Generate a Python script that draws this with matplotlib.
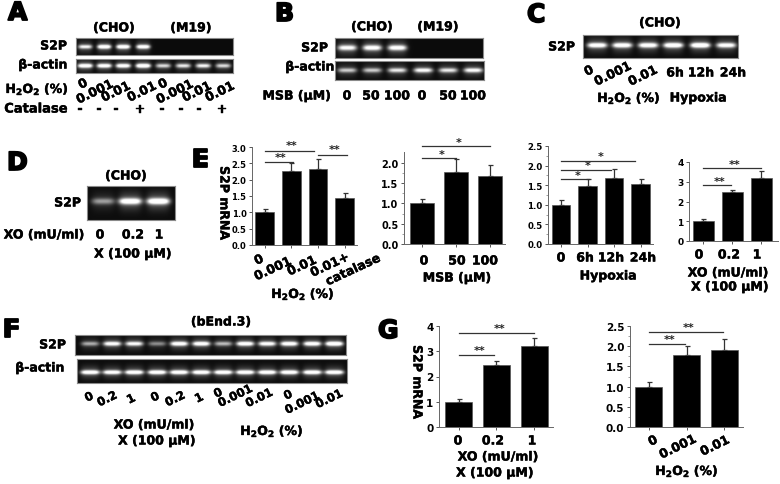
import matplotlib
matplotlib.use("Agg")
import matplotlib.pyplot as plt
import matplotlib.patheffects as pe
import numpy as np

W, H = 780, 485
plt.rcParams['font.family'] = ['DejaVu Sans']
plt.rcParams['font.weight'] = 'bold'
plt.rcParams['mathtext.fontset'] = 'dejavusans'

H2O2 = r'$\mathbf{H_2O_2}$ (%)'
XO = 'XO (mU/ml)'
X100 = 'X (100 µM)'
LAB = 9

# gel band brightness, one value per lane
a_s2p = [.75, .95, .95, .9, 0, 0, 0, 0]
a_actin = [.95, .9, .9, 1, .65, .7, .75, .65]
b_s2p = [.8, .85, .85, 0, 0, 0]
b_actin = [.6, .6, .7, .8, .7, .8]
c_s2p = [.9, .9, .9, .95, 1, .85]
d_s2p = [.45, .95, 1]
f_s2p = [.5, .85, .8, .4, .9, .9, .55, .9, .85, .9, .9, 1]
f_actin = [.95, .9, .95, .95, .95, .95, .95, .95, .95, .95, .95, .95]

# bar data: mean, top of error bar, brackets as (from bar, to bar, height)
e1_vals = [1.0, 2.27, 2.33, 1.43]
e1_err = [1.1, 2.5, 2.63, 1.6]
e1_brackets = [(0, 1.07, 2.53, '**'), (0, 1.85, 2.89, '**'), (2.0, 3.09, 2.76, '**')]
e2_vals = [1.0, 1.77, 1.68]
e2_err = [1.11, 2.1, 1.96]
e2_brackets = [(0, 1.0, 2.12, '*'), (0, 2.0, 2.41, '*')]
e3_vals = [1.0, 1.47, 1.69, 1.53]
e3_err = [1.12, 1.65, 1.92, 1.66]
e3_brackets = [(0, 1.06, 1.66, '*'), (0, 1.87, 1.9, '*'), (0, 2.8, 2.125, '*')]
e4_vals = [1.0, 2.47, 3.2]
e4_err = [1.12, 2.6, 3.52]
e4_brackets = [(0, 0.95, 2.84, '**'), (0, 1.98, 3.7, '**')]
g1_vals = [1.0, 2.47, 3.2]
g1_err = [1.12, 2.6, 3.52]
g1_brackets = [(0, 0.95, 2.85, '**'), (0, 2.0, 3.74, '**')]
g2_vals = [1.0, 1.77, 1.9]
g2_err = [1.12, 2.0, 2.18]
g2_brackets = [(0, 0.97, 2.06, '**'), (0, 1.97, 2.36, '**')]

fig = plt.figure(figsize=(W / 100, H / 100), dpi=100, facecolor='white')

# overlay in image pixels, all the text goes here
page = fig.add_axes([0, 0, 1, 1], zorder=5)
page.set_xlim(0, W)
page.set_ylim(H, 0)
page.axis('off')


def px_axes(x0, y0, x1, y1, **kw):
    return fig.add_axes([x0 / W, 1 - y1 / H, (x1 - x0) / W, (y1 - y0) / H], **kw)


def txt(x, y, s, size=LAB, ha='center', rot=0, stroke=0.3):
    t = page.text(x, y, s, fontsize=size, ha=ha, va='center', rotation=rot,
                  rotation_mode='anchor', color='black', fontweight='bold')
    if stroke:
        t.set_path_effects([pe.withStroke(linewidth=stroke, foreground='black')])
    return t


def letter(x, y, s):
    txt(x, y, s, size=18, ha='left', stroke=1.3)


def gel(x0, y0, x1, y1, lanes, levels, band_y, lane_w, sig=2.0):
    xx, yy = np.meshgrid(np.arange(x0, x1, 0.5), np.arange(y0, y1, 0.5))
    img = np.full(xx.shape, 0.05)
    for cx, lev in zip(lanes, levels):
        across = np.exp(-((xx - cx) / (lane_w / 2)) ** 4)
        img += lev * across * np.exp(-((yy - band_y) / sig) ** 2)
        img += 0.3 * lev * across * np.exp(-((yy - band_y) / (sig * 3)) ** 2)
    ax = px_axes(x0, y0, x1, y1)
    ax.imshow(img, cmap='gray', vmin=0, vmax=1, aspect='auto', interpolation='bilinear')
    ax.set_xticks([])
    ax.set_yticks([])
    for sp in ax.spines.values():
        sp.set_color('#8a8a8a')
        sp.set_linewidth(0.8)
    return ax


def bars(box, vals, errs, brackets, ylim, yticks, xlim, width, tick_size, fmt, star_up, minor=None):
    ax = px_axes(*box)
    ax.patch.set_alpha(0)
    xs = np.arange(len(vals))
    ax.bar(xs, vals, width=width, color='black', edgecolor='#555555', linewidth=0.5, zorder=2)
    up = np.array(errs) - np.array(vals)
    ax.errorbar(xs, vals, yerr=[np.zeros(len(vals)), up], fmt='none', ecolor='#333333',
                elinewidth=0.9, capsize=1.8, capthick=0.9, zorder=1)
    ax.set_xlim(*xlim)
    ax.set_ylim(*ylim)
    ax.set_xticks(xs)
    ax.set_xticklabels([])
    ax.set_yticks(yticks)
    ax.set_yticklabels([fmt % v for v in yticks], fontsize=tick_size, fontweight='bold')
    if minor is not None:
        ax.set_yticks(minor, minor=True)
    ax.tick_params(axis='both', length=2.5, width=0.7, color='#555555', pad=1.5)
    ax.tick_params(axis='y', which='minor', length=1.5, width=0.5, color='#777777')
    ax.spines['top'].set_visible(False)
    ax.spines['right'].set_visible(False)
    ax.spines['left'].set_color('#666666')
    ax.spines['bottom'].set_color('#666666')
    ax.spines['left'].set_linewidth(0.7)
    ax.spines['bottom'].set_linewidth(0.7)
    for a, b, h, stars in brackets:
        ax.plot([a, b], [h, h], color='#333333', lw=0.9, clip_on=False, zorder=3)
        ax.text((a + b) / 2 + 0.08, h + star_up, stars, ha='center', va='center', fontsize=8,
                fontweight='bold', clip_on=False, color='#222222')
    return ax


# panel A
letter(8, 14, 'A')
lanes_a = [85, 104, 123, 143, 163, 183, 203, 223]
gel(76, 39, 233, 56, lanes_a, a_s2p, 47.5, 14)
gel(76, 60, 233, 74, lanes_a, a_actin, 66.5, 15)
txt(114, 29, '(CHO)')
txt(191, 29, '(M19)')
txt(67, 47, 'S2P', ha='right')
txt(67, 66, 'β-actin', ha='right')
txt(69, 90, H2O2, ha='right')
txt(67, 110, 'Catalase', ha='right', size=9.4)
for x, y, s in zip([83, 95, 116, 142, 163, 175, 197, 220],
                   [85, 93, 93, 93, 85, 93, 93, 93],
                   ['0', '0.001', '0.01', '0.01', '0', '0.001', '0.01', '0.01']):
    txt(x, y, s, rot=26)
for x, s in zip([80, 99, 116, 140, 162, 181, 199, 222], ['-', '-', '-', '+', '-', '-', '-', '+']):
    txt(x, 110, s)

# panel B
letter(275, 15, 'B')
lanes_b = [347, 372, 397, 423, 448, 473]
gel(335, 39, 483, 59, lanes_b, b_s2p, 48.5, 19, sig=2.6)
gel(335, 62, 484, 81, lanes_b, b_actin, 71, 19, sig=2.2)
txt(372, 28, '(CHO)')
txt(438, 28, '(M19)')
txt(328, 49, 'S2P', ha='right')
txt(334, 68, 'β-actin', ha='right')
txt(331, 97, 'MSB (µM)', ha='right')
for x, s in zip([347, 371, 397, 422, 448, 473], ['0', '50', '100', '0', '50', '100']):
    txt(x, 97, s)

# panel C
letter(527, 16, 'C')
gel(583, 36, 738, 59, [597, 622, 648, 673, 700, 726], c_s2p, 46, 20, sig=2.4)
txt(660, 24, '(CHO)')
txt(575, 48, 'S2P', ha='right')
for x, y, s, r in zip([589, 613, 643, 675, 701, 733], [72, 75, 77, 74, 74, 74],
                      ['0', '0.001', '0.01', '6h', '12h', '24h'], [26, 26, 26, 0, 0, 0]):
    txt(x, y, s, rot=r)
txt(629, 99, H2O2)
txt(698, 99, 'Hypoxia')

# panel D
letter(7, 164, 'D')
gel(87, 187, 175, 221, [103, 130, 158], d_s2p, 202, 23, sig=3.0)
txt(126, 177, '(CHO)')
txt(81, 204, 'S2P', ha='right')
txt(44, 236, XO)
for x, s in zip([100, 133, 159], ['0', '0.2', '1']):
    txt(x, 236, s)
txt(133, 255, X100)

# panel E
letter(192, 161, 'E')
txt(224, 204, 'S2P mRNA', rot=270)
bars((252, 148, 357, 246), e1_vals, e1_err, e1_brackets, (0, 3), [0, .5, 1, 1.5, 2, 2.5, 3],
     (-0.47, 3.46), 0.71, 6, '%.1f', 0.17)
for x, y, s in zip([259, 273, 302, 330, 353], [261, 270, 267, 266, 271],
                   ['0', '0.001', '0.01', '0.01+', 'catalase']):
    txt(x, y, s, rot=25)
txt(303, 295, H2O2)

bars((404, 153, 505, 245), e2_vals, e2_err, e2_brackets, (0, 2.27), [0, .5, 1, 1.5, 2],
     (-0.53, 2.44), 0.71, 7, '%.1f', 0.11, minor=[.25, .75, 1.25, 1.75])
for x, s in zip([424, 457, 485], ['0', '50', '100']):
    txt(x, 262, s)
txt(457, 279, 'MSB (µM)')

bars((548, 147, 653, 245), e3_vals, e3_err, e3_brackets, (0, 2.5), [0, .5, 1, 1.5, 2, 2.5],
     (-0.49, 3.47), 0.7, 6.2, '%.1f', 0.11, minor=[.25, .75, 1.25, 1.75, 2.25])
for x, s in zip([561, 585, 611, 643], ['0', '6h', '12h', '24h']):
    txt(x, 259, s)
txt(608, 277, 'Hypoxia')

bars((689, 163, 778, 242), e4_vals, e4_err, e4_brackets, (0, 4), [0, 1, 2, 3, 4],
     (-0.5, 2.57), 0.72, 6.5, '%d', 0.22)
for x, s in zip([699, 729, 757], ['0', '0.2', '1']):
    txt(x, 256, s)
txt(728, 274, XO)
txt(730, 288, X100)

# panel F
letter(3, 331, 'F')
lanes_f = [90, 112, 134, 157, 179, 201, 223, 245, 267, 289, 312, 334]
gel(75, 336, 346, 356, lanes_f, f_s2p, 345, 18, sig=2.0)
gel(77, 360, 347, 384, lanes_f, f_actin, 373, 19, sig=2.0)
txt(221, 323, '(bEnd.3)')
txt(66, 346, 'S2P', ha='right')
txt(64, 369, 'β-actin', ha='right')
for x, y, s in zip([89, 107, 131, 155, 175, 199, 218, 235, 259, 288, 302, 329],
                   [398, 400, 400, 398, 400, 399, 394, 397, 399, 396, 404, 400],
                   ['0', '0.2', '1', '0', '0.2', '1', '0', '0.001', '0.01', '0', '0.001', '0.01']):
    txt(x, y, s, size=8.4, rot=26)
txt(154, 426, XO)
txt(157, 442, X100)
txt(272, 432, H2O2)

# panel G
letter(378, 332, 'G')
txt(417, 383, 'S2P mRNA', rot=270)
bars((439, 327, 553, 428), g1_vals, g1_err, g1_brackets, (0, 4), [0, 1, 2, 3, 4],
     (-0.52, 2.5), 0.72, 7.5, '%d', 0.18)
for x, s in zip([458, 493, 532], ['0', '0.2', '1']):
    txt(x, 442, s)
txt(498, 458, XO)
txt(495, 474, X100)

bars((630, 327, 743, 428), g2_vals, g2_err, g2_brackets, (0, 2.5), [0, .5, 1, 1.5, 2, 2.5],
     (-0.49, 2.49), 0.71, 7.5, '%.1f', 0.11, minor=[.25, .75, 1.25, 1.75, 2.25])
for x, y, s in zip([653, 678, 715], [442, 448, 447], ['0', '0.001', '0.01']):
    txt(x, y, s, rot=26)
txt(687, 472, H2O2)

fig.savefig('out.png', dpi=100)
